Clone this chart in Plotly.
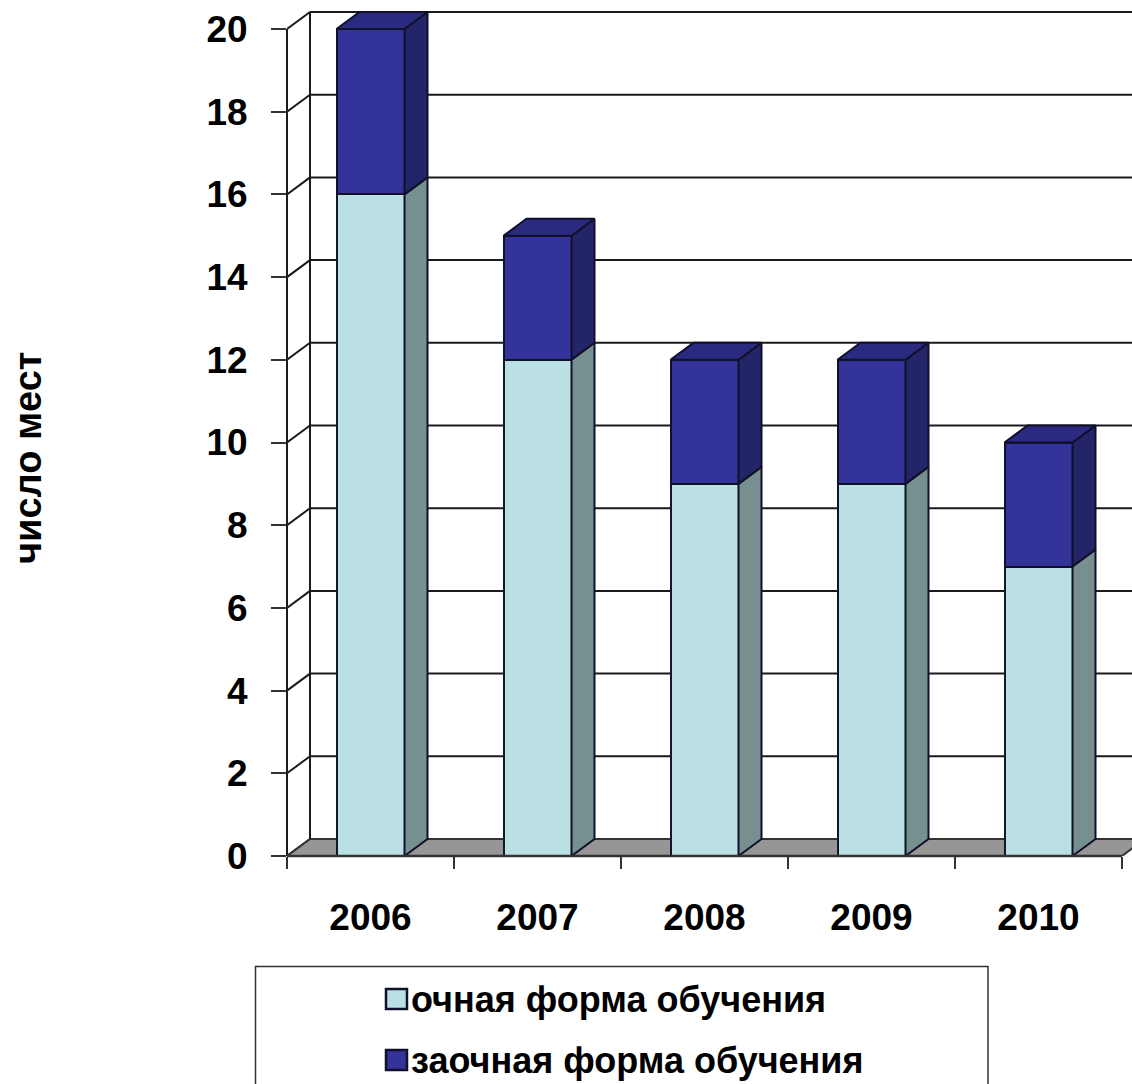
import plotly.graph_objects as go

years = ["2006", "2007", "2008", "2009", "2010"]
full_time = [16, 12, 9, 9, 7]
part_time = [4, 3, 3, 3, 3]
y_ticks = list(range(0, 21, 2))
full_label = "очная форма обучения"
part_label = "заочная форма обучения"
y_title = "число мест"

W, H = 1132, 1084
LEFT, BOTTOM = 287, 228
CAT_W = 167
UNIT_H = 41.35
DEPTH_X = 23 / CAT_W
DEPTH_Y = 17 / UNIT_H
BAR_W = 68 / CAT_W

x_lo = -0.5
x_hi = x_lo + (W - LEFT) / CAT_W
y_hi = (H - BOTTOM) / UNIT_H
FONT = "Liberation Sans"
LINE = "#1a1a1a"


# paper coordinates are relative to the plot area, not the page
def px(x):
    return (x - LEFT) / (W - LEFT)


def py(y):
    return 1 - y / (H - BOTTOM)


def side_faces(lows, highs):
    xs, ys = [], []
    for i, (lo, hi) in enumerate(zip(lows, highs)):
        r = i + BAR_W / 2
        xs += [r, r + DEPTH_X, r + DEPTH_X, r, r, None]
        ys += [lo, lo + DEPTH_Y, hi + DEPTH_Y, hi, lo, None]
    return xs, ys


def top_faces(tops):
    xs, ys = [], []
    for i, t in enumerate(tops):
        l, r = i - BAR_W / 2, i + BAR_W / 2
        xs += [l, l + DEPTH_X, r + DEPTH_X, r, l, None]
        ys += [t, t + DEPTH_Y, t + DEPTH_Y, t, t, None]
    return xs, ys


def face(xs, ys, color):
    return go.Scatter(x=xs, y=ys, mode="lines", fill="toself", fillcolor=color,
                      line=dict(color="#10102a", width=2), showlegend=False,
                      hoverinfo="skip")


positions = list(range(len(years)))
totals = [a + b for a, b in zip(full_time, part_time)]

fig = go.Figure()
fig.add_bar(x=positions, y=full_time, name=full_label, width=BAR_W,
            marker=dict(color="#BAE0E3", line=dict(color="#10182a", width=2.5)))
fig.add_bar(x=positions, y=part_time, name=part_label, width=BAR_W,
            marker=dict(color="#333399", line=dict(color="#10102a", width=2.5)))
fig.add_trace(face(*side_faces([0] * 5, full_time), "#76908F"))
fig.add_trace(face(*side_faces(full_time, totals), "#242468"))
fig.add_trace(face(*top_faces(totals), "#2A2A80"))

# walls and floor sit under the bars
shapes = []
for v in y_ticks:
    shapes.append(dict(type="line", x0=x_lo, x1=x_lo + DEPTH_X, y0=v, y1=v + DEPTH_Y,
                       line=dict(color=LINE, width=2), layer="below"))
    shapes.append(dict(type="line", x0=x_lo + DEPTH_X, x1=x_hi, y0=v + DEPTH_Y, y1=v + DEPTH_Y,
                       line=dict(color=LINE, width=2), layer="below"))
floor_right = len(years) - 0.5
shapes.append(dict(type="path", layer="below", fillcolor="#969696",
                   line=dict(color="#333333", width=2),
                   path=f"M {x_lo} 0 L {x_lo + DEPTH_X} {DEPTH_Y} L {x_hi + DEPTH_X} {DEPTH_Y} "
                        f"L {x_hi} {DEPTH_Y} L {floor_right + DEPTH_X} {DEPTH_Y} L {floor_right} 0 Z"))
shapes.append(dict(type="line", xref="paper", x0=0, x1=0, y0=0, y1=y_ticks[-1],
                   line=dict(color=LINE, width=2), layer="below"))
shapes.append(dict(type="line", x0=x_lo + DEPTH_X, x1=x_lo + DEPTH_X, y0=DEPTH_Y,
                   y1=y_ticks[-1] + DEPTH_Y, line=dict(color=LINE, width=2), layer="below"))
shapes.append(dict(type="line", yref="paper", x0=x_lo, x1=floor_right, y0=0, y1=0,
                   line=dict(color="#333333", width=2.5)))

# legend box runs off the bottom of the picture
shapes.append(dict(type="rect", xref="paper", yref="paper", x0=px(255.5), x1=px(988),
                   y0=py(1090), y1=py(966.5), line=dict(color="#333333", width=1.5)))
swatches = [(999, "#BAE0E3", full_label), (1060, "#333399", part_label)]
annotations = []
for cy, color, label in swatches:
    shapes.append(dict(type="rect", xref="paper", yref="paper", x0=px(386), x1=px(407),
                       y0=py(cy + 10), y1=py(cy - 10), fillcolor=color,
                       line=dict(color="#10102a", width=2.5)))
    annotations.append(dict(text=f"<b>{label}</b>", xref="paper", yref="paper",
                            x=px(409), y=py(cy), xanchor="left", yanchor="middle",
                            showarrow=False, font=dict(family=FONT, size=36, color="black")))
annotations.append(dict(text=f"<b>{y_title}</b>", xref="paper", yref="paper",
                        x=px(28), y=py(458), textangle=-90, xanchor="center", yanchor="middle",
                        showarrow=False, font=dict(family=FONT, size=38, color="black")))

fig.update_layout(
    width=W, height=H, autosize=False,
    barmode="stack", bargap=0, showlegend=False,
    margin=dict(l=LEFT, r=0, t=0, b=BOTTOM, pad=0),
    plot_bgcolor="white", paper_bgcolor="white",
    shapes=shapes, annotations=annotations,
    xaxis=dict(range=[x_lo, x_hi], showgrid=False, zeroline=False, showline=False,
               tickmode="array", tickvals=positions, ticktext=years,
               ticks="outside", ticklen=29, tickcolor="rgba(0,0,0,0)",
               tickfont=dict(family=FONT, size=37, color="black", weight="bold"),
               minor=dict(tickmode="array", tickvals=[p - 0.5 for p in positions] + [floor_right],
                          ticks="outside", ticklen=12, tickcolor="#333333", tickwidth=2)),
    yaxis=dict(range=[0, y_hi], showgrid=False, zeroline=False, showline=False,
               tickmode="array", tickvals=y_ticks,
               ticks="outside", ticklen=15, tickcolor="#333333", tickwidth=2,
               ticklabelstandoff=16,
               tickfont=dict(family=FONT, size=37, color="black", weight="bold")),
)

fig.write_html("out.html", post_script="document.body.style.margin='0'",
               config=dict(displayModeBar=False))
